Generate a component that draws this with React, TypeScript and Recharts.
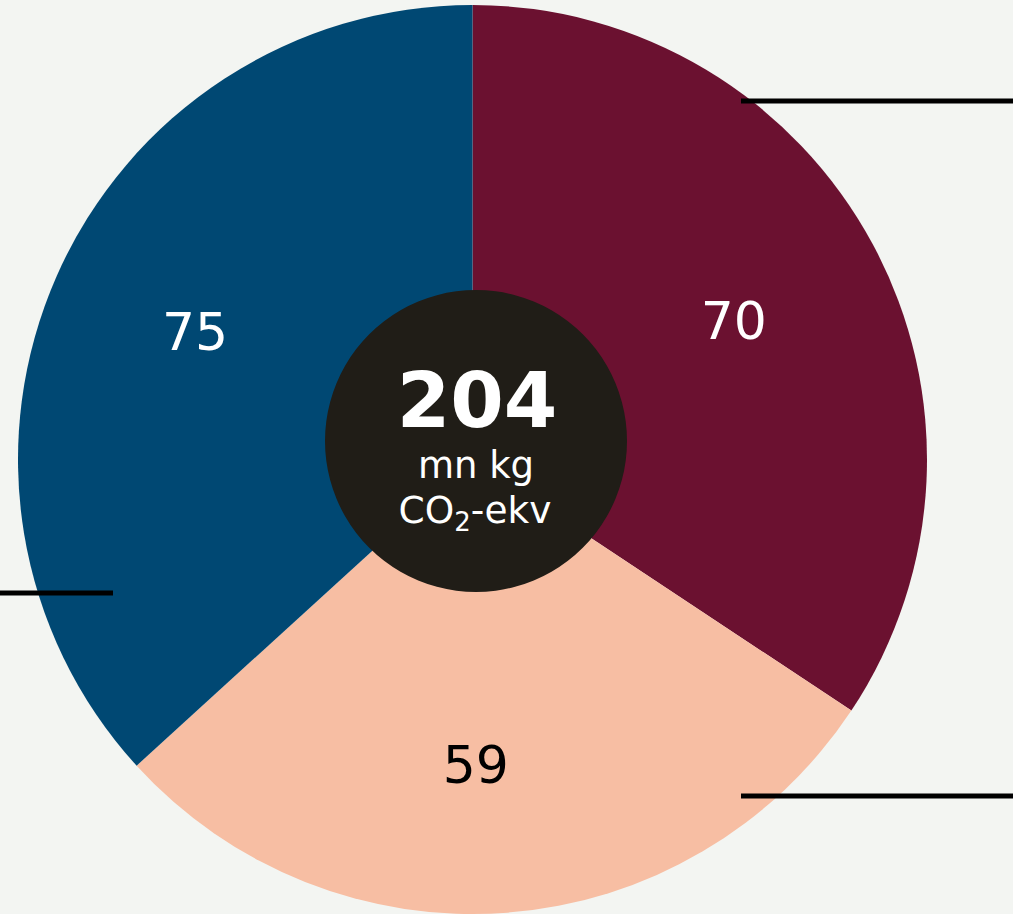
import { Cell, Pie, PieChart } from "recharts";

// Slice values, read clockwise from 12 o'clock. Category names sit outside the crop.
const SEGMENTS = ["segment-a", "segment-b", "segment-c"];
const VALUES = [70, 59, 75];
const TOTAL = 204;
const UNIT_LINE_1 = "mn kg";
const UNIT_LINE_2 = ["CO", "2", "-ekv"];

const COLOURS = ["#6b1130", "#f7bea3", "#004873"];
const LABEL_COLOURS = ["#ffffff", "#000000", "#ffffff"];
// the source nudges its value labels a little off the slice bisector
const LABEL_NUDGE = [
  [-5, 4],
  [-20, 4],
  [-1, -5],
];

const FONT = "'DejaVu Sans', Verdana, sans-serif";
const W = 1013;
const H = 914;

const slices = SEGMENTS.map((name, i) => ({ name, value: VALUES[i] }));
const centre = [{ name: "total", value: TOTAL }];

function renderValueLabel(props: any) {
  const { cx, cy, midAngle, outerRadius, value, index } = props;
  const r = outerRadius * 0.665;
  const rad = (-midAngle * Math.PI) / 180;
  const [nx, ny] = LABEL_NUDGE[index] ?? [0, 0];
  return (
    <text
      x={cx + r * Math.cos(rad) + nx}
      y={cy + r * Math.sin(rad) + ny}
      fill={LABEL_COLOURS[index]}
      textAnchor="middle"
      dominantBaseline="central"
      fontFamily={FONT}
      fontSize={52}
    >
      {value}
    </text>
  );
}

function renderCentreLabel(props: any) {
  const { cx, cy, value } = props;
  return (
    <g fill="#ffffff" fontFamily={FONT} textAnchor="middle">
      <text x={cx + 1} y={cy - 14} fontSize={77} fontWeight="bold">
        {value}
      </text>
      <text x={cx} y={cy + 37} fontSize={37}>
        {UNIT_LINE_1}
      </text>
      <text x={cx - 1} y={cy + 82} fontSize={37.5}>
        {UNIT_LINE_2[0]}
        <tspan fontSize={26} dy={8}>
          {UNIT_LINE_2[1]}
        </tspan>
        <tspan dy={-8}>{UNIT_LINE_2[2]}</tspan>
      </text>
    </g>
  );
}

export default function App() {
  return (
    <div
      style={{
        position: "absolute",
        left: 0,
        top: 0,
        width: W,
        height: H,
        background: "#f3f5f2",
        overflow: "hidden",
      }}
    >
      <PieChart width={W} height={H} margin={{ top: 0, right: 0, bottom: 0, left: 0 }}>
        <Pie
          data={slices}
          dataKey="value"
          cx={472.5}
          cy={459.5}
          outerRadius={454.5}
          startAngle={90}
          endAngle={-270}
          stroke="none"
          label={renderValueLabel}
          labelLine={false}
          isAnimationActive={false}
        >
          {slices.map((s, i) => (
            <Cell key={s.name} fill={COLOURS[i]} />
          ))}
        </Pie>
        <Pie
          data={centre}
          dataKey="value"
          cx={476}
          cy={441}
          outerRadius={151}
          startAngle={90}
          endAngle={-270}
          fill="#201d17"
          stroke="none"
          label={renderCentreLabel}
          labelLine={false}
          isAnimationActive={false}
        />
      </PieChart>
      {/* leader lines running to the (cropped) category labels */}
      <svg
        width={W}
        height={H}
        style={{ position: "absolute", left: 0, top: 0, pointerEvents: "none" }}
      >
        <g stroke="#000000" strokeWidth={5}>
          <line x1={741} y1={101} x2={W} y2={101} />
          <line x1={0} y1={593} x2={113} y2={593} />
          <line x1={741} y1={796} x2={W} y2={796} />
        </g>
      </svg>
    </div>
  );
}
